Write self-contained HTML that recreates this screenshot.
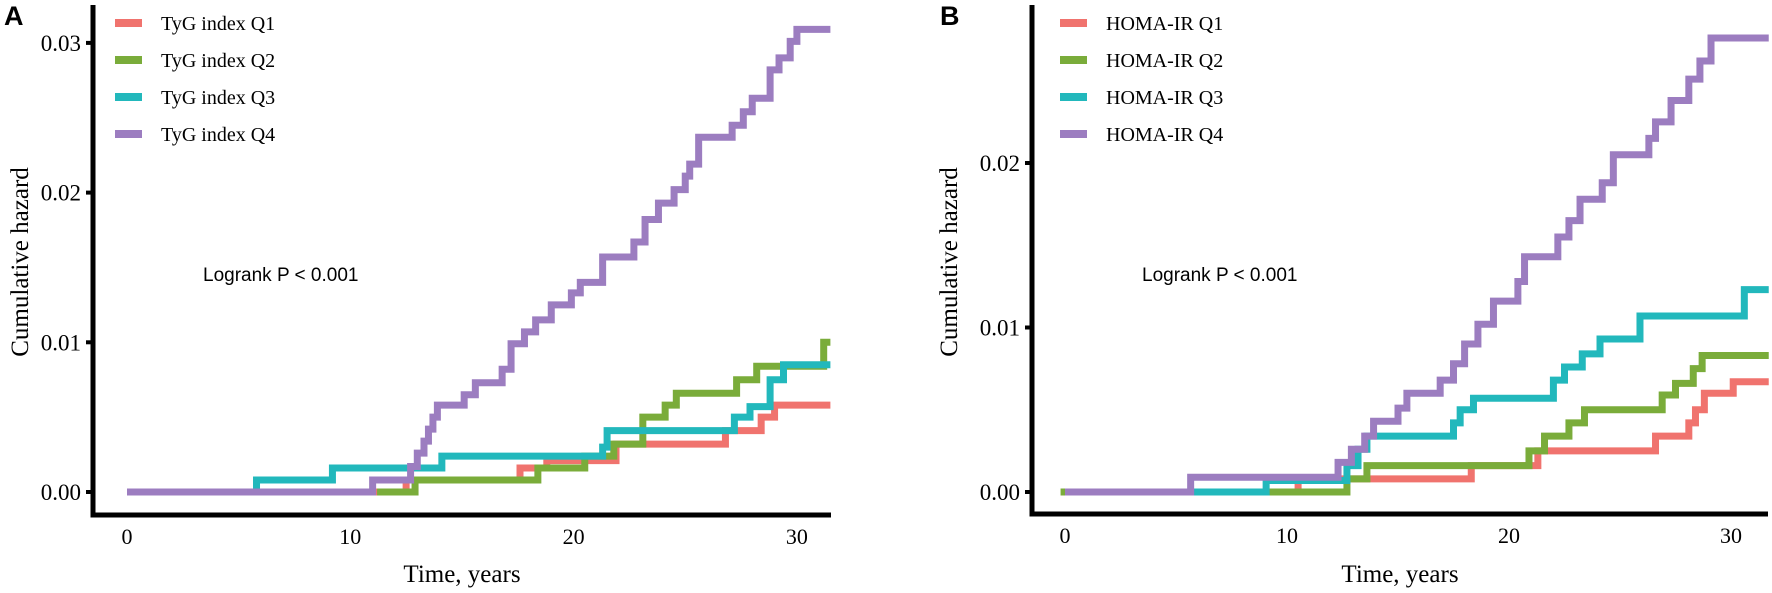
<!DOCTYPE html>
<html><head><meta charset="utf-8">
<style>
html,body{margin:0;padding:0;background:#fff;}
svg{display:block;}
text{font-family:"Liberation Serif",serif;}
.sans{font-family:"Liberation Sans",sans-serif;}
</style></head>
<body>
<svg id="chart" width="1772" height="593" viewBox="0 0 1772 593" xmlns="http://www.w3.org/2000/svg"></svg>
<script>
// ---- Panel A data (TyG index quartiles) ----
const aQ1Times = [0, 12.5, 17.6, 18.8, 21.9, 26.8, 28.4, 29.0];
const aQ1Vals  = [0, 0.0008, 0.0016, 0.0021, 0.0032, 0.0041, 0.0050, 0.0058];
const aQ2Times = [11.2, 12.9, 18.4, 20.5, 21.8, 23.1, 24.1, 24.6, 27.3, 28.2, 31.2];
const aQ2Vals  = [0, 0.0008, 0.0016, 0.0024, 0.0032, 0.0050, 0.0058, 0.0066, 0.0075, 0.0084, 0.0100];
const aQ3Times = [0, 5.8, 9.2, 14.1, 21.3, 21.5, 27.2, 27.9, 28.8, 29.4];
const aQ3Vals  = [0, 0.0008, 0.0016, 0.0024, 0.0030, 0.0041, 0.0050, 0.0057, 0.0075, 0.0085];
const aQ4Times = [0, 11.0, 12.7, 13.0, 13.3, 13.5, 13.7, 13.9, 15.1, 15.6, 16.8, 17.2, 17.8, 18.3, 19.0, 19.9, 20.3, 21.3, 22.7, 23.2, 23.8, 24.5, 25.0, 25.2, 25.6, 27.1, 27.6, 28.0, 28.8, 29.2, 29.7, 30.0];
const aQ4Vals  = [0, 0.0008, 0.0017, 0.0026, 0.0034, 0.0042, 0.0050, 0.0058, 0.0065, 0.0073, 0.0082, 0.0099, 0.0107, 0.0115, 0.0125, 0.0133, 0.0140, 0.0157, 0.0167, 0.0182, 0.0193, 0.0202, 0.0211, 0.0219, 0.0237, 0.0245, 0.0254, 0.0263, 0.0282, 0.0290, 0.0301, 0.0309];
const aEnd = 31.5;
const aLegend = ["TyG index Q1","TyG index Q2","TyG index Q3","TyG index Q4"];
const aYTicks = [0, 0.01, 0.02, 0.03];
const aYTickLabels = ["0.00","0.01","0.02","0.03"];

// ---- Panel B data (HOMA-IR quartiles) ----
const bQ1Times = [0, 10.5, 18.3, 21.3, 26.6, 28.1, 28.4, 28.8, 30.1];
const bQ1Vals  = [0, 0.0008, 0.0016, 0.0025, 0.0034, 0.0042, 0.0050, 0.0060, 0.0067];
const bQ2Times = [-0.2, 12.7, 13.6, 20.9, 21.6, 22.7, 23.4, 26.9, 27.5, 28.3, 28.7];
const bQ2Vals  = [0, 0.0008, 0.0016, 0.0025, 0.0034, 0.0042, 0.0050, 0.0059, 0.0066, 0.0075, 0.0083];
const bQ3Times = [0, 9.06, 12.7, 13.2, 13.6, 17.5, 17.8, 18.4, 22.0, 22.5, 23.3, 24.1, 25.9, 30.6];
const bQ3Vals  = [0, 0.0007, 0.0016, 0.0026, 0.0034, 0.0042, 0.0050, 0.0057, 0.0068, 0.0076, 0.0084, 0.0093, 0.0107, 0.0123];
const bQ4Times = [0, 5.66, 12.3, 12.9, 13.5, 13.9, 15.0, 15.4, 16.9, 17.5, 18.0, 18.6, 19.3, 20.4, 20.7, 22.2, 22.7, 23.2, 24.2, 24.7, 26.3, 26.6, 27.3, 28.1, 28.6, 29.1];
const bQ4Vals  = [0, 0.0009, 0.0018, 0.0026, 0.0034, 0.0043, 0.0051, 0.0060, 0.0068, 0.0078, 0.0090, 0.0102, 0.0116, 0.0128, 0.0143, 0.0155, 0.0165, 0.0178, 0.0188, 0.0205, 0.0215, 0.0225, 0.0238, 0.0251, 0.0262, 0.0276];
const bEnd = 31.7;
const bLegend = ["HOMA-IR Q1","HOMA-IR Q2","HOMA-IR Q3","HOMA-IR Q4"];
const bYTicks = [0, 0.01, 0.02];
const bYTickLabels = ["0.00","0.01","0.02"];

const xTicks = [0, 10, 20, 30];
const colors = ["#F0736E","#7AAC3A","#22B8BC","#9C7DC0"];

const NS = "http://www.w3.org/2000/svg";
const svg = document.getElementById("chart");
function mk(tag, attrs, parent){
  const e = document.createElementNS(NS, tag);
  for (const k in attrs) e.setAttribute(k, attrs[k]);
  (parent||svg).appendChild(e);
  return e;
}

function panel(cfg){
  const g = mk("g", {});
  
  
  const xs = t => cfg.x0 + t * cfg.xPerYear;
  const ys = v => cfg.y0 - v * cfg.yPerUnit;

  cfg.series.forEach((s, i) => {
    let d = "";
    for (let k = 0; k < s.t.length; k++) {
      const x = xs(s.t[k]), y = ys(s.v[k]);
      if (k === 0) d += "M" + x + "," + y;
      else d += "V" + y;
      const nx = k + 1 < s.t.length ? xs(s.t[k+1]) : xs(cfg.end);
      d += "H" + nx;
    }
    const p = mk("path", {d: d, fill: "none", stroke: colors[i], "stroke-width": 7, "stroke-linejoin": "miter"}, g);
    
    
  });

  const ya = mk("line", {x1: cfg.axX, y1: 5, x2: cfg.axX, y2: cfg.axY + 2.5, stroke: "#000", "stroke-width": 5}, g);
  
  
  const xa = mk("line", {x1: cfg.axX - 2.5, y1: cfg.axY, x2: cfg.axEnd, y2: cfg.axY, stroke: "#000", "stroke-width": 5}, g);
  
  

  cfg.yTicks.forEach((v, i) => {
    const y = ys(v);
    const tk = mk("line", {x1: cfg.axX - 7, y1: y, x2: cfg.axX, y2: y, stroke: "#000", "stroke-width": 4}, g);
    
    
    const tl = mk("text", {x: cfg.axX - 12, y: y + 8, "text-anchor": "end", "font-size": 23, fill: "#000"}, g);
    tl.textContent = cfg.yTickLabels[i];
    
    
  });
  xTicks.forEach(t => {
    const tl = mk("text", {x: xs(t), y: cfg.axY + 29, "text-anchor": "middle", "font-size": 22, fill: "#000"}, g);
    tl.textContent = String(t);
    
    
  });

  const xt = mk("text", {x: (cfg.axX + cfg.axEnd) / 2, y: 582, "text-anchor": "middle", "font-size": 25, fill: "#000"}, g);
  xt.textContent = "Time, years";
  
  
  const yt = mk("text", {x: 0, y: 0, "text-anchor": "middle", "font-size": 25, fill: "#000", transform: "translate(" + cfg.yTitleX + ",262) rotate(-90)"}, g);
  yt.textContent = "Cumulative hazard";
  
  

  const pl = mk("text", {x: cfg.labelX, y: 25, "font-size": 27, "font-weight": "bold", fill: "#000", "class": "sans"}, g);
  pl.textContent = cfg.label;
  
  

  const lr = mk("text", {x: cfg.logX, y: 281, "font-size": 19, fill: "#000", "class": "sans"}, g);
  lr.textContent = "Logrank P < 0.001";
  
  

  cfg.legend.forEach((lab, i) => {
    const ly = 23 + i * 37;
    const le = mk("g", {}, g);
    
    
    const sw = mk("rect", {x: cfg.legX, y: ly - 4, width: 27, height: 8, fill: colors[i]}, le);
    
    
    const tx = mk("text", {x: cfg.legX + 46, y: ly + 7, "font-size": 20, fill: "#000"}, le);
    tx.textContent = lab;
    
    
  });
}

panel({
  name: "panel-a", label: "A", labelX: 4, logX: 203, legX: 115, yTitleX: 28,
  x0: 127, xPerYear: 22.33, y0: 492, yPerUnit: 14970,
  axX: 93, axY: 515, axEnd: 831, end: aEnd,
  yTicks: aYTicks, yTickLabels: aYTickLabels, legend: aLegend,
  seriesNames: ["series-tyg-q1","series-tyg-q2","series-tyg-q3","series-tyg-q4"],
  series: [{t:aQ1Times,v:aQ1Vals},{t:aQ2Times,v:aQ2Vals},{t:aQ3Times,v:aQ3Vals},{t:aQ4Times,v:aQ4Vals}]
});
panel({
  name: "panel-b", label: "B", labelX: 940, logX: 1142, legX: 1060, yTitleX: 957,
  x0: 1065, xPerYear: 22.2, y0: 492, yPerUnit: 16450,
  axX: 1032, axY: 514, axEnd: 1768, end: bEnd,
  yTicks: bYTicks, yTickLabels: bYTickLabels, legend: bLegend,
  seriesNames: ["series-homa-q1","series-homa-q2","series-homa-q3","series-homa-q4"],
  series: [{t:bQ1Times,v:bQ1Vals},{t:bQ2Times,v:bQ2Vals},{t:bQ3Times,v:bQ3Vals},{t:bQ4Times,v:bQ4Vals}]
});
</script>
</body></html>
